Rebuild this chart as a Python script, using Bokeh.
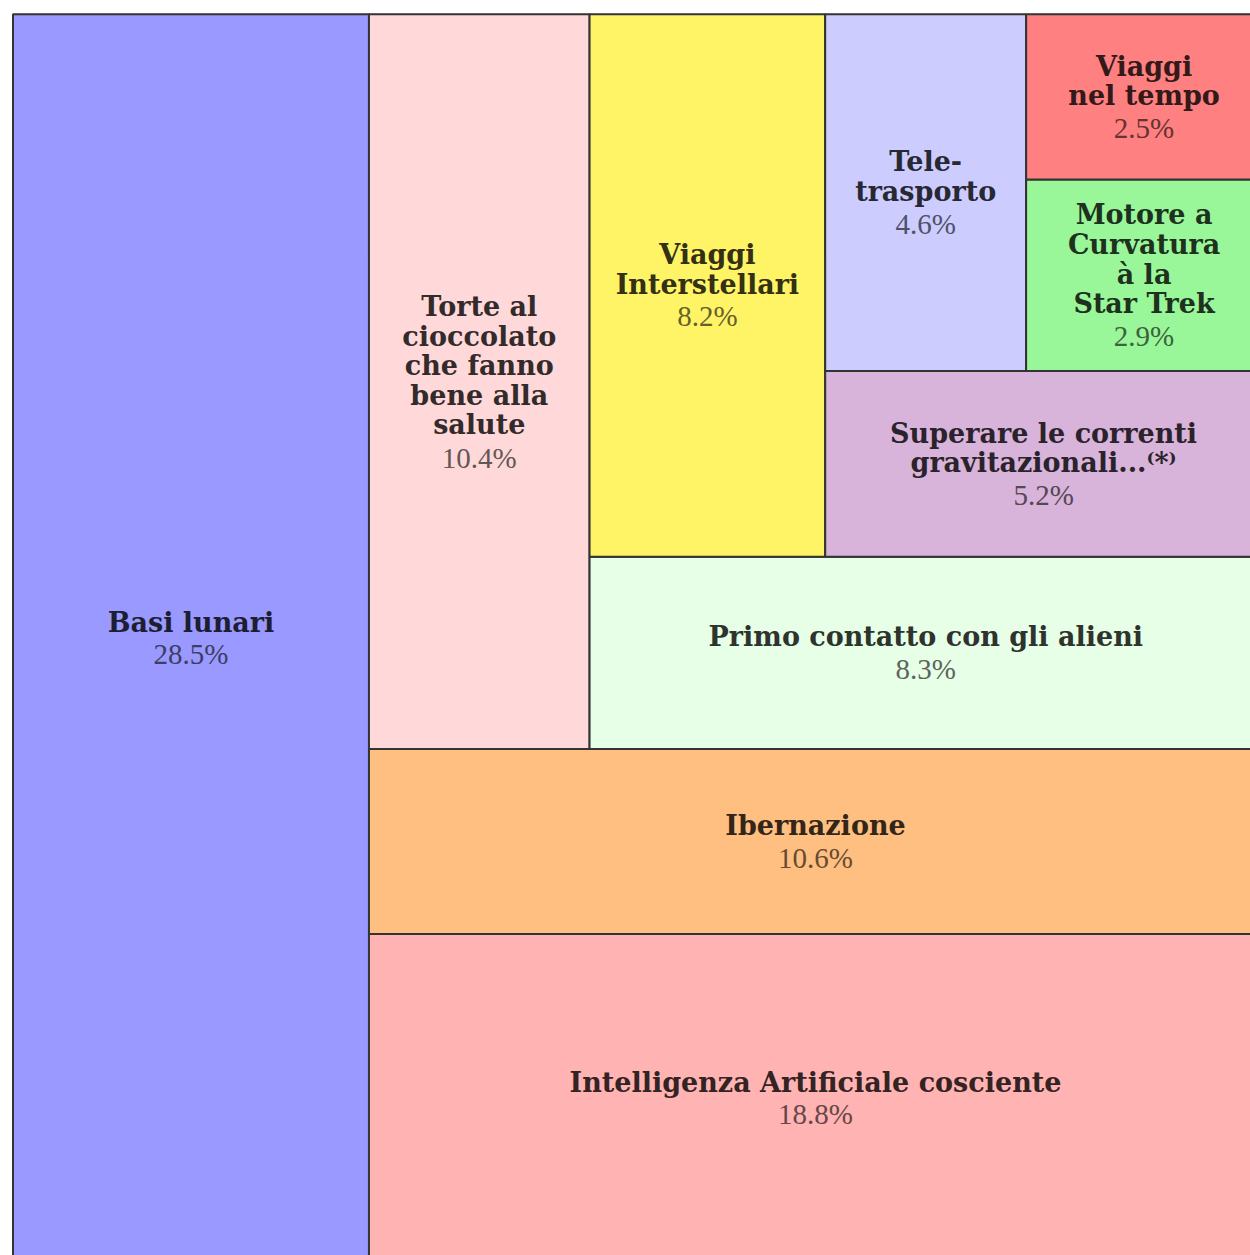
from bokeh.plotting import figure
from bokeh.models import ColumnDataSource, Range1d
from bokeh.embed import file_html
from bokeh.resources import INLINE
from bokeh.core.properties import value

# ---- data ----
categories = [
    "Basi lunari",
    "Intelligenza Artificiale cosciente",
    "Ibernazione",
    "Torte al\ncioccolato\nche fanno\nbene alla\nsalute",
    "Primo contatto con gli alieni",
    "Viaggi\nInterstellari",
    "Superare le correnti\ngravitazionali...\u207d*\u207e",
    "Tele-\ntrasporto",
    "Motore a\nCurvatura\n\u00e0 la\nStar Trek",
    "Viaggi\nnel tempo",
]
shares = [28.5, 18.8, 10.6, 10.4, 8.3, 8.2, 5.2, 4.6, 2.9, 2.5]
fill_colors = ["#9999ff", "#ffb3b3", "#ffbf80", "#ffd9d9", "#e6ffe6",
               "#fff466", "#d8b3da", "#ccccff", "#99f799", "#ff8080"]

# ---- slice layout: one item per strip, strip across the longer side ----
def strip_layout(vals, x0, y0, w, h):
    out = []
    rem = float(sum(vals))
    for v in vals:
        if w >= h:
            dw = w * v / rem
            out.append((x0, x0 + dw, y0, y0 + h))
            x0 += dw
            w -= dw
        else:
            dh = h * v / rem
            out.append((x0, x0 + w, y0, y0 + dh))
            y0 += dh
            h -= dh
        rem -= v
    return out

rects = strip_layout(shares, 0.0, 0.0, 100.0, 100.0)

def shade(hexcol, f):
    r, g, b = (int(hexcol[i:i + 2], 16) for i in (1, 3, 5))
    return "#%02x%02x%02x" % (int(r * f), int(g * f), int(b * f))

FS_NAME = 27          # px
FS_PCT = 29           # px
PITCH = 30.0          # px between name lines
GAP = 32.0            # px from last name line to percentage line
LH = PITCH / (FS_NAME * 1.164)

n_lines = [c.count("\n") + 1 for c in categories]
src = ColumnDataSource(dict(
    left=[r[0] for r in rects], right=[r[1] for r in rects],
    bottom=[r[2] for r in rects], top=[r[3] for r in rects],
    cx=[(r[0] + r[1]) / 2 for r in rects], cy=[(r[2] + r[3]) / 2 for r in rects],
    name=categories,
    pct=["%.1f%%" % s for s in shares],
    fill=fill_colors,
    name_col=[shade(c, 0.2) for c in fill_colors],
    pct_col=[shade(c, 0.4) for c in fill_colors],
    name_off=[-GAP / 2 for n in n_lines],
    pct_off=[GAP / 2 + (n - 1) * PITCH / 2 for n in n_lines],
))

p = figure(width=1250, height=1255, output_backend="svg", toolbar_location=None,
           x_range=Range1d(-0.12, 99.08), y_range=Range1d(0.54, 100.14))
p.min_border_left = 11
p.min_border_right = 0
p.min_border_top = 12
p.min_border_bottom = 0
p.axis.visible = False
p.grid.visible = False
p.outline_line_color = None
p.background_fill_color = "white"
p.border_fill_color = "white"

p.quad(left="left", right="right", bottom="bottom", top="top", source=src,
       fill_color="fill", line_color="#333333", line_width=2)

p.text(x="cx", y="cy", text="name", source=src, text_align="center",
       text_baseline="middle", text_font=value("DejaVu Serif"),
       text_font_style="bold", text_font_size="%dpx" % FS_NAME,
       text_line_height=LH, text_color="name_col", y_offset="name_off")
p.text(x="cx", y="cy", text="pct", source=src, text_align="center",
       text_baseline="middle", text_font=value("Liberation Serif"),
       text_font_size="%dpx" % FS_PCT,
       text_color="pct_col", y_offset="pct_off")

open("out.html", "w").write(file_html(p, INLINE))
